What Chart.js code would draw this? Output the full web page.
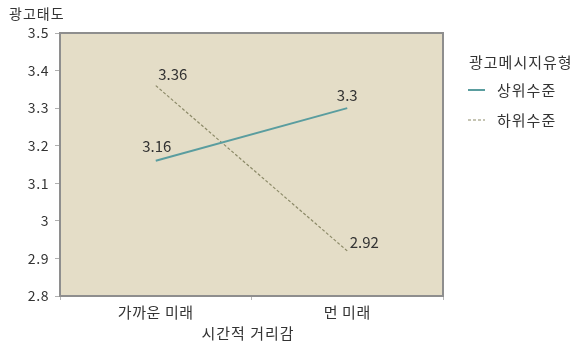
<!DOCTYPE html>
<html>
<head>
<meta charset="utf-8">
<script src="https://cdn.jsdelivr.net/npm/chart.js@4"></script>
<style>
  html, body { margin: 0; padding: 0; background: #fff; }
  #wrap { width: 581px; height: 346px; }
</style>
</head>
<body>
<div id="wrap"><canvas id="chart" width="581" height="346"></canvas></div>
<script>
// 시간적 거리감 x 광고메시지유형 상호작용
const categories = ['가까운 미래', '먼 미래'];
const upperLevel = [3.16, 3.3];
const lowerLevel = [3.36, 2.92];
const seriesNames = ['상위수준', '하위수준'];
const yTicks = [2.8, 2.9, 3, 3.1, 3.2, 3.3, 3.4, 3.5];

const FONT = "'Noto Sans CJK KR', 'Noto Sans', sans-serif";
const TEXT = '#333333';
const upperColor = '#5a9d9f';
const lowerColor = '#8c8a68';

// plot background, frame, titles, value labels and legend
const decorations = {
    id: 'decorations',
    beforeDraw(chart) {
        chart.ctx.letterSpacing = '0.6px';
    },
    beforeDatasetsDraw(chart) {
        const { ctx, chartArea: a } = chart;
        ctx.save();
        ctx.fillStyle = '#e4ddc7';
        ctx.fillRect(a.left, a.top, a.right - a.left, a.bottom - a.top);
        ctx.restore();
    },
    afterDraw(chart) {
        const { ctx, chartArea: a } = chart;
        ctx.save();
        ctx.strokeStyle = '#8e8e8e';
        ctx.lineWidth = 2;
        ctx.strokeRect(a.left, a.top, a.right - a.left, a.bottom - a.top);

        ctx.fillStyle = TEXT;
        ctx.font = '14px ' + FONT;
        ctx.letterSpacing = '1px';
        ctx.textBaseline = 'middle';
        ctx.textAlign = 'left';
        ctx.fillText('광고태도', 9, 14);
        ctx.textAlign = 'center';
        ctx.font = '15px ' + FONT;
        ctx.fillText('시간적 거리감', 248, 333);

        // value labels next to each point
        ctx.font = '15px ' + FONT;
        ctx.letterSpacing = '0px';
        const offsets = [
            [[1, -14], [0, -13]],     // 상위수준
            [[17, -11], [17, -9]]     // 하위수준
        ];
        chart.data.datasets.forEach((ds, i) => {
            const meta = chart.getDatasetMeta(i);
            meta.data.forEach((pt, j) => {
                const [dx, dy] = offsets[i][j];
                ctx.fillText(String(ds.data[j]), pt.x + dx, pt.y + dy);
            });
        });

        // legend
        ctx.textAlign = 'left';
        ctx.font = '15px ' + FONT;
        ctx.letterSpacing = '1px';
        ctx.fillText('광고메시지유형', 469, 62);
        chart.data.datasets.forEach((ds, i) => {
            const y = 90 + i * 30;
            ctx.beginPath();
            ctx.strokeStyle = ds.borderColor;
            ctx.lineWidth = ds.borderWidth;
            ctx.setLineDash(ds.borderDash || []);
            ctx.moveTo(468, y);
            ctx.lineTo(485, y);
            ctx.stroke();
            ctx.setLineDash([]);
            ctx.fillStyle = TEXT;
            ctx.fillText(ds.label, 497, y);
        });
        ctx.restore();
    }
};

new Chart(document.getElementById('chart'), {
    type: 'line',
    data: {
        labels: categories,
        datasets: [
            {
                label: seriesNames[0],
                data: upperLevel,
                borderColor: upperColor,
                borderWidth: 2,
                pointRadius: 0,
                tension: 0
            },
            {
                label: seriesNames[1],
                data: lowerLevel,
                borderColor: lowerColor,
                borderWidth: 1.2,
                borderDash: [3, 2],
                pointRadius: 0,
                tension: 0
            }
        ]
    },
    options: {
        responsive: false,
        animation: false,
        layout: { padding: { top: 33, right: 138, left: 0, bottom: 0 } },
        plugins: {
            legend: { display: false },
            tooltip: { enabled: false }
        },
        scales: {
            x: {
                offset: true,
                afterFit: s => { s.height = 50; },
                grid: { drawOnChartArea: false, offset: true, tickLength: 4, color: '#b8b8b8' },
                border: { display: false },
                ticks: { color: TEXT, font: { family: FONT, size: 15 }, padding: 3 }
            },
            y: {
                min: 2.8,
                max: 3.5,
                afterFit: s => { s.width = 60; },
                afterBuildTicks: s => { s.ticks = yTicks.map(v => ({ value: v })); },
                grid: { drawOnChartArea: false, tickLength: 5, color: '#b0b0b0' },
                border: { display: false },
                ticks: {
                    color: TEXT,
                    font: { family: FONT, size: 14 },
                    padding: 6,
                    callback: v => String(Math.round(v * 10) / 10)
                }
            }
        }
    },
    plugins: [decorations]
});
</script>
</body>
</html>
